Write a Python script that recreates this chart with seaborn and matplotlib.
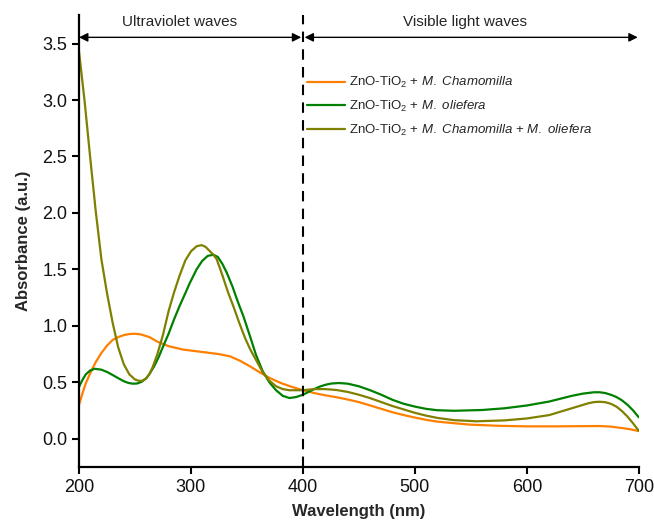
import numpy as np
import pandas as pd
import matplotlib
matplotlib.use("Agg")
import matplotlib.pyplot as plt
import seaborn as sns

# ---- data ----
wl_cham = [200, 203, 206, 210, 215, 220, 225, 230, 235, 240, 245, 250, 255, 263, 270, 280, 293,
           305, 317, 325, 335, 344, 353, 362, 370, 380, 390, 400, 410, 420, 430, 440, 450, 460,
           470, 480, 490, 500, 510, 520, 535, 550, 575, 600, 625, 650, 665, 675, 685, 692, 700]
abs_cham = [0.30, 0.40, 0.49, 0.58, 0.68, 0.76, 0.825, 0.875, 0.90, 0.918, 0.928, 0.93, 0.925,
            0.90, 0.86, 0.82, 0.79, 0.775, 0.76, 0.75, 0.73, 0.69, 0.64, 0.585, 0.54, 0.495,
            0.46, 0.43, 0.405, 0.385, 0.368, 0.348, 0.325, 0.295, 0.265, 0.235, 0.21, 0.188,
            0.168, 0.152, 0.138, 0.125, 0.115, 0.11, 0.11, 0.112, 0.113, 0.108, 0.095, 0.085,
            0.068]

wl_olie = [200, 203, 206, 210, 214, 220, 225, 230, 235, 240, 244, 248, 252, 256, 260, 263, 267,
           271, 275, 280, 285, 290, 295, 299, 305, 310, 315, 320, 324, 328, 332, 337, 342, 347,
           353, 358, 364, 370, 376, 382, 388, 394, 400, 405, 410, 415, 420, 425, 432, 440, 450,
           460, 470, 480, 490, 500, 510, 520, 535, 560, 580, 600, 620, 640, 650, 660, 665, 670,
           675, 680, 685, 690, 695, 700]
abs_olie = [0.46, 0.52, 0.57, 0.605, 0.62, 0.612, 0.592, 0.565, 0.537, 0.51, 0.495, 0.488, 0.49,
            0.505, 0.535, 0.575, 0.64, 0.72, 0.815, 0.93, 1.06, 1.18, 1.29, 1.38, 1.50, 1.575,
            1.62, 1.63, 1.61, 1.55, 1.47, 1.35, 1.21, 1.08, 0.90, 0.745, 0.60, 0.50, 0.43, 0.38,
            0.361, 0.37, 0.39, 0.415, 0.44, 0.462, 0.478, 0.489, 0.494, 0.488, 0.465, 0.43, 0.39,
            0.345, 0.31, 0.285, 0.265, 0.253, 0.248, 0.255, 0.27, 0.295, 0.33, 0.38, 0.40, 0.412,
            0.412, 0.405, 0.39, 0.37, 0.34, 0.30, 0.25, 0.19]

wl_both = [200, 205, 210, 215, 220, 225, 230, 235, 240, 245, 250, 253, 256, 260, 263, 266, 270,
           275, 280, 285, 290, 295, 300, 305, 309.5, 313, 317, 320, 323, 328, 333, 338, 343, 348,
           353, 358, 364, 370, 376, 382, 388, 400, 410, 420, 430, 440, 450, 460, 470, 480, 490,
           500, 510, 520, 535, 555, 580, 600, 620, 640, 655, 660, 665, 670, 675, 680, 685, 690,
           695, 700]
abs_both = [3.43, 2.99, 2.49, 2.01, 1.59, 1.29, 1.03, 0.81, 0.66, 0.57, 0.525, 0.515, 0.512,
            0.535, 0.575, 0.64, 0.75, 0.92, 1.13, 1.30, 1.45, 1.58, 1.66, 1.705, 1.715, 1.70,
            1.66, 1.63, 1.59, 1.45, 1.30, 1.17, 1.03, 0.90, 0.79, 0.70, 0.59, 0.515, 0.465, 0.44,
            0.43, 0.43, 0.44, 0.44, 0.432, 0.415, 0.39, 0.36, 0.325, 0.29, 0.26, 0.23, 0.205,
            0.185, 0.165, 0.155, 0.163, 0.18, 0.21, 0.27, 0.315, 0.325, 0.328, 0.324, 0.31,
            0.285, 0.245, 0.195, 0.135, 0.07]

series_labels = [
    r"ZnO-TiO$_2$ + $\it{M.}$ $\it{Chamomilla}$",
    r"ZnO-TiO$_2$ + $\it{M.}$ $\it{oliefera}$",
    r"ZnO-TiO$_2$ + $\it{M.}$ $\it{Chamomilla}$ + $\it{M.}$ $\it{oliefera}$",
]
series_colors = ["#FF8000", "#008000", "#808000"]
region_labels = ["Ultraviolet waves", "Visible light waves"]
x_ticks = [200, 300, 400, 500, 600, 700]
y_ticks = [0.0, 0.5, 1.0, 1.5, 2.0, 2.5, 3.0, 3.5]

# ---- styling ----
sns.set_theme(style="ticks")
plt.rcParams["font.family"] = ["Liberation Sans", "DejaVu Sans"]
plt.rcParams["mathtext.fontset"] = "custom"
plt.rcParams["mathtext.rm"] = "Liberation Sans"
plt.rcParams["mathtext.it"] = "Liberation Sans:italic"
plt.rcParams["mathtext.bf"] = "Liberation Sans:bold"

fig = plt.figure(figsize=(6.54, 5.21), dpi=100)
ax = fig.add_axes([0.1208, 0.1036, 0.856, 0.867])

frames = [
    pd.DataFrame({"wl": wl_cham, "abs": abs_cham, "s": series_labels[0]}),
    pd.DataFrame({"wl": wl_olie, "abs": abs_olie, "s": series_labels[1]}),
    pd.DataFrame({"wl": wl_both, "abs": abs_both, "s": series_labels[2]}),
]
df = pd.concat(frames, ignore_index=True)
sns.lineplot(data=df, x="wl", y="abs", hue="s", hue_order=series_labels,
             palette=series_colors, linewidth=1.6, sort=False, estimator=None, ax=ax)

ax.set_xlim(200, 700)
ax.set_ylim(-0.25, 3.75)
ax.set_xticks(x_ticks)
ax.set_yticks(y_ticks)
ax.set_yticklabels([f"{v:.1f}" for v in y_ticks])
ax.tick_params(axis="both", labelsize=13, width=1.5, length=5, color="black", labelcolor="#111111")
for side in ["top", "right"]:
    ax.spines[side].set_visible(False)
for side in ["left", "bottom"]:
    ax.spines[side].set_linewidth(1.6)
    ax.spines[side].set_color("black")

ax.set_xlabel("Wavelength (nm)", fontsize=12, fontweight="bold", labelpad=6)
ax.set_ylabel("Absorbance (a.u.)", fontsize=12, fontweight="bold", labelpad=8)

# dashed boundary at 400 nm
ax.axvline(400, color="black", linestyle=(0, (5, 3.5)), linewidth=1.5)

# double arrows
arrow_y = 3.555
ax.annotate("", xy=(200, arrow_y), xytext=(398.5, arrow_y),
            arrowprops=dict(arrowstyle="<|-|>", color="black", lw=1.0, mutation_scale=13,
                            shrinkA=0, shrinkB=0))
ax.annotate("", xy=(401.5, arrow_y), xytext=(699, arrow_y),
            arrowprops=dict(arrowstyle="<|-|>", color="black", lw=1.0, mutation_scale=13,
                            shrinkA=0, shrinkB=0), annotation_clip=False)
ax.text(290, 3.69, region_labels[0], ha="center", va="center", fontsize=11)
ax.text(545, 3.69, region_labels[1], ha="center", va="center", fontsize=11)

leg = ax.legend(loc="upper left", bbox_to_anchor=(0.398, 0.879), frameon=False,
                fontsize=9.5, handlelength=2.9, handletextpad=0.3, labelspacing=0.65,
                borderaxespad=0)
for line in leg.get_lines():
    line.set_linewidth(1.6)

fig.savefig("out.png", dpi=100)
